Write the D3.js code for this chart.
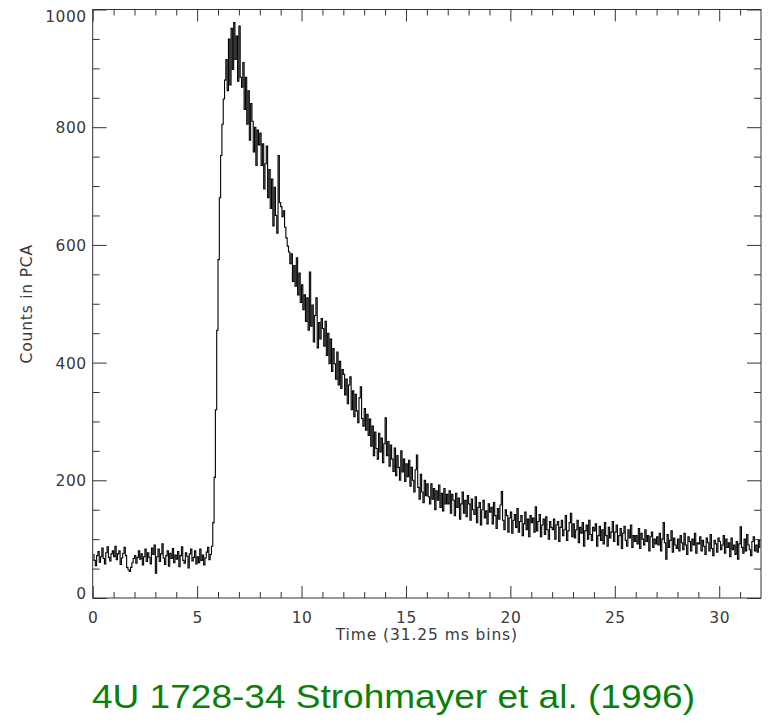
<!DOCTYPE html>
<html>
<head>
<meta charset="utf-8">
<script src="https://cdn.jsdelivr.net/npm/d3@7"></script>
<style>
  html, body { margin: 0; padding: 0; background: #fff; }
  svg { display: block; }
  .tick text { font-family: "DejaVu Sans", sans-serif; }
</style>
</head>
<body>
<div id="chart"></div>
<script>
// ---- data (counts per 0.0625 s) ----
const binWidth = 0.0625;
const counts = [
  74,64,55,72,79,61,70,85,67,58,77,87,69,63,75,80,
  70,88,65,75,80,57,68,76,86,72,52,48,45,52,60,67,
  72,59,69,80,66,75,56,70,83,62,77,69,58,85,74,90,
  42,70,83,62,75,92,68,57,72,80,54,76,67,84,60,73,
  66,79,53,72,87,64,59,77,71,51,75,83,63,69,80,58,
  70,60,83,64,73,56,68,78,86,65,74,88,128,205,320,455,
  575,680,752,805,848,880,915,862,950,872,968,898,978,915,955,878,
  972,885,868,910,830,885,805,862,778,840,810,758,800,735,795,770,
  790,735,772,695,738,768,680,728,662,712,632,698,650,620,752,672,
  665,648,658,630,612,598,588,568,585,538,565,530,578,515,552,502,
  532,490,515,470,510,455,554,462,498,435,480,510,425,468,440,475,
  458,428,470,412,450,398,440,385,424,398,372,418,362,402,356,388,
  380,345,372,330,362,376,320,352,308,346,318,298,340,359,305,292,
  322,285,312,276,304,258,292,242,282,254,236,280,248,272,230,262,
  306,242,266,224,260,236,215,255,208,242,222,200,250,214,236,198,
  228,206,234,190,222,200,180,218,243,188,168,210,180,162,200,174,
  194,172,160,194,168,186,150,182,166,192,154,178,148,186,160,176,
  160,182,144,176,166,140,178,154,170,134,160,180,144,166,138,174,
  160,132,168,150,142,172,128,154,162,124,150,166,136,148,126,160,
  146,154,126,162,140,118,152,134,158,181,132,116,150,140,112,136,
  146,110,132,142,120,152,112,130,140,106,126,146,116,134,104,140,
  128,136,112,155,114,130,142,104,124,134,108,138,116,100,130,120,
  116,134,100,124,130,96,120,132,106,116,140,98,114,128,144,104,
  126,102,116,132,94,120,110,128,88,114,124,100,132,108,98,120,
  114,126,88,106,122,98,116,92,128,106,88,120,102,112,130,96,
  112,124,90,106,118,84,110,122,98,88,116,102,124,86,106,96,
  106,92,118,84,110,100,90,116,96,106,80,104,112,86,100,92,
  104,90,110,80,100,128,94,66,108,86,98,114,78,102,90,84,
  100,80,106,94,82,110,90,74,104,96,80,100,90,110,76,94,
  92,104,80,98,88,74,102,94,80,108,84,72,98,92,78,102,
  96,82,90,106,76,100,86,94,70,102,82,90,74,96,66,92,
  121,86,76,100,80,108,90,82,72,96,104,80,90,78,98,86
];
const xMajorTicks = [0, 5, 10, 15, 20, 25, 30];
const xMinorTicks = [1,2,3,4,6,7,8,9,11,12,13,14,16,17,18,19,21,22,23,24,26,27,28,29,31];
const yMajorTicks = [0, 200, 400, 600, 800, 1000];
const yMinorTicks = [50,100,150,250,300,350,450,500,550,650,700,750,850,900,950];
const xTitle = "Time (31.25 ms bins)";
const yTitle = "Counts in PCA";
const chartTitle = "4U 1728-34 Strohmayer et al. (1996)";

// ---- layout ----
const W = 773, H = 725;
const mLeft = 92.7, mRight = 761, mTop = 9.5, mBottom = 598;

const svg = d3.select("#chart").append("svg").attr("width", W).attr("height", H);

const x = d3.scaleLinear().domain([0, 32]).range([mLeft, mRight]);
const y = d3.scaleLinear().domain([0, 1000]).range([mBottom, mTop]);

const data = counts.map((c, i) => ({ t: (i + 0.5) * binWidth, c }));

svg.append("clipPath").attr("id", "clip").append("rect")
  .attr("x", mLeft).attr("y", mTop).attr("width", mRight - mLeft).attr("height", mBottom - mTop);

const line = d3.line().x(d => x(d.t)).y(d => y(d.c)).curve(d3.curveStep);
svg.append("path").datum(data)
  .attr("clip-path", "url(#clip)")
  .attr("fill", "none").attr("stroke", "#000").attr("stroke-width", 1.1)
  .attr("d", line);

const axisColor = "#333";
function styleAxis(g) {
  g.select(".domain").remove();
  g.selectAll(".tick line").attr("stroke", axisColor).attr("stroke-width", 1);
  g.selectAll(".tick text").attr("fill", "#3a3a3a").style("font-size", "15.5px")
    .style("letter-spacing", "0.5px");
}

// bottom
svg.append("g").attr("transform", `translate(0,${mBottom})`)
  .call(d3.axisBottom(x).tickValues(xMajorTicks).tickSize(-12).tickPadding(13.5).tickFormat(d3.format("d")))
  .call(styleAxis);
svg.append("g").attr("transform", `translate(0,${mBottom})`)
  .call(d3.axisBottom(x).tickValues(xMinorTicks).tickSize(-6).tickFormat(""))
  .call(styleAxis);
// top
svg.append("g").attr("transform", `translate(0,${mTop})`)
  .call(d3.axisTop(x).tickValues(xMajorTicks).tickSize(-12).tickFormat(""))
  .call(styleAxis);
svg.append("g").attr("transform", `translate(0,${mTop})`)
  .call(d3.axisTop(x).tickValues(xMinorTicks).tickSize(-6).tickFormat(""))
  .call(styleAxis);
// left
const gl = svg.append("g").attr("transform", `translate(${mLeft},0)`)
  .call(d3.axisLeft(y).tickValues(yMajorTicks).tickSize(-14).tickPadding(6).tickFormat(d3.format("d")))
  .call(styleAxis);
gl.selectAll(".tick text").attr("dy", d => d === 0 ? "0.0em" : d === 1000 ? "0.75em" : "0.35em");
svg.append("g").attr("transform", `translate(${mLeft},0)`)
  .call(d3.axisLeft(y).tickValues(yMinorTicks).tickSize(-7).tickFormat(""))
  .call(styleAxis);
// right
svg.append("g").attr("transform", `translate(${mRight},0)`)
  .call(d3.axisRight(y).tickValues(yMajorTicks).tickSize(-14).tickFormat(""))
  .call(styleAxis);
svg.append("g").attr("transform", `translate(${mRight},0)`)
  .call(d3.axisRight(y).tickValues(yMinorTicks).tickSize(-7).tickFormat(""))
  .call(styleAxis);

// frame
svg.append("rect").attr("x", mLeft).attr("y", mTop)
  .attr("width", mRight - mLeft).attr("height", mBottom - mTop)
  .attr("fill", "none").attr("stroke", axisColor).attr("stroke-width", 1);

// axis titles
svg.append("text").attr("x", (mLeft + mRight) / 2).attr("y", 640)
  .attr("text-anchor", "middle").attr("fill", "#3a3a3a")
  .style("font-family", "DejaVu Sans, sans-serif").style("font-size", "15.5px")
  .style("letter-spacing", "0.9px")
  .text(xTitle);
svg.append("text").attr("transform", `translate(32,${(mTop + mBottom) / 2}) rotate(-90)`)
  .attr("text-anchor", "middle").attr("fill", "#3a3a3a")
  .style("font-family", "DejaVu Sans, sans-serif").style("font-size", "15.5px")
  .style("letter-spacing", "0.8px")
  .text(yTitle);

// chart title
svg.append("text").attr("x", 92).attr("y", 708)
  .attr("text-anchor", "start").attr("fill", "#0a800a")
  .attr("textLength", 603).attr("lengthAdjust", "spacingAndGlyphs")
  .style("font-family", "Liberation Sans, Arial, sans-serif").style("font-size", "34px")
  .text(chartTitle);
</script>
</body>
</html>
